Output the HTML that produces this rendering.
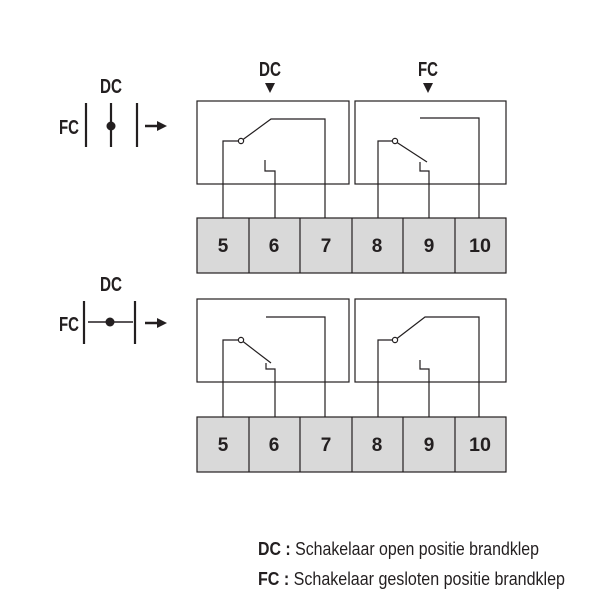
<!DOCTYPE html>
<html><head><meta charset="utf-8"><style>
html,body{margin:0;padding:0;background:#fff}
svg{display:block}
text{font-family:"Liberation Sans Narrow","Liberation Sans",sans-serif;fill:#231f20}
.b{font-weight:bold}
</style></head><body>
<svg width="600" height="600" viewBox="0 0 600 600" xmlns="http://www.w3.org/2000/svg">
<g stroke="#231f20" fill="none" stroke-width="1.2">
<rect x="197" y="101" width="152" height="83"/>
<rect x="355" y="101" width="151" height="83"/>
<rect x="197" y="218" width="309" height="55" fill="#d9d9d9"/>
<path d="M249 218V273M300 218V273M352 218V273M403 218V273M455 218V273"/>
<rect x="197" y="299" width="152" height="83"/>
<rect x="355" y="299" width="151" height="83"/>
<rect x="197" y="417" width="309" height="55" fill="#d9d9d9"/>
<path d="M249 417V472M300 417V472M352 417V472M403 417V472M455 417V472"/>
<path d="M223 218V141H238.5"/>
<path d="M243 139.5L271 119H325V218"/>
<path d="M275 218V171H265V160"/>
<path d="M378 218V141H392.5"/>
<path d="M397 142.5L427 162"/>
<path d="M420 162V171H429V218"/>
<path d="M420 118H479V218"/>
<path d="M223 417V340H238.5"/>
<path d="M243 341.5L271 363"/>
<path d="M266 363V369H275V417"/>
<path d="M266 317H325V417"/>
<path d="M378 417V340H392.5"/>
<path d="M397 338.5L425 317H479V417"/>
<path d="M420 360V369H429V417"/>
<circle cx="241" cy="141" r="2.6" fill="#fff"/>
<circle cx="395" cy="141" r="2.6" fill="#fff"/>
<circle cx="241" cy="340" r="2.6" fill="#fff"/>
<circle cx="395" cy="340" r="2.6" fill="#fff"/>
</g>
<g stroke="#231f20" stroke-width="2.2" fill="none">
<path d="M86 103V147M111 103V147M137 103V147"/>
<path d="M84 301V344M135 301V344"/>
<path d="M88 322H133" stroke-width="1.5"/>
<path d="M145 126H158M145 323H158" stroke-width="2.5"/>
</g>
<circle cx="111" cy="126" r="4.5" fill="#231f20"/>
<circle cx="110" cy="322" r="4.5" fill="#231f20"/>
<path d="M157 121L167 126L157 131Z M157 318L167 323L157 328Z" fill="#231f20"/>
<path d="M265 83H275L270 93Z M423 83H433L428 93Z" fill="#231f20"/>
<g font-size="20">
<text class="b" x="100" y="93" textLength="22" lengthAdjust="spacingAndGlyphs">DC</text>
<text class="b" x="59" y="134" textLength="20" lengthAdjust="spacingAndGlyphs">FC</text>
<text class="b" x="100" y="291" textLength="22" lengthAdjust="spacingAndGlyphs">DC</text>
<text class="b" x="59" y="331" textLength="20" lengthAdjust="spacingAndGlyphs">FC</text>
<text class="b" x="259" y="76" textLength="22" lengthAdjust="spacingAndGlyphs">DC</text>
<text class="b" x="418" y="76" textLength="20" lengthAdjust="spacingAndGlyphs">FC</text>
</g>
<g font-size="19" text-anchor="middle">
<text class="b" x="223" y="252">5</text><text class="b" x="274" y="252">6</text><text class="b" x="326" y="252">7</text>
<text class="b" x="377" y="252">8</text><text class="b" x="429" y="252">9</text><text class="b" x="480" y="252" textLength="22" lengthAdjust="spacingAndGlyphs">10</text>
<text class="b" x="223" y="451">5</text><text class="b" x="274" y="451">6</text><text class="b" x="326" y="451">7</text>
<text class="b" x="377" y="451">8</text><text class="b" x="429" y="451">9</text><text class="b" x="480" y="451" textLength="22" lengthAdjust="spacingAndGlyphs">10</text>
</g>
<text x="258" y="555" font-size="18" textLength="281" lengthAdjust="spacingAndGlyphs"><tspan font-weight="bold">DC :</tspan> Schakelaar open positie brandklep</text>
<text x="258" y="585" font-size="18" textLength="307" lengthAdjust="spacingAndGlyphs"><tspan font-weight="bold">FC :</tspan> Schakelaar gesloten positie brandklep</text>
</svg>
</body></html>
